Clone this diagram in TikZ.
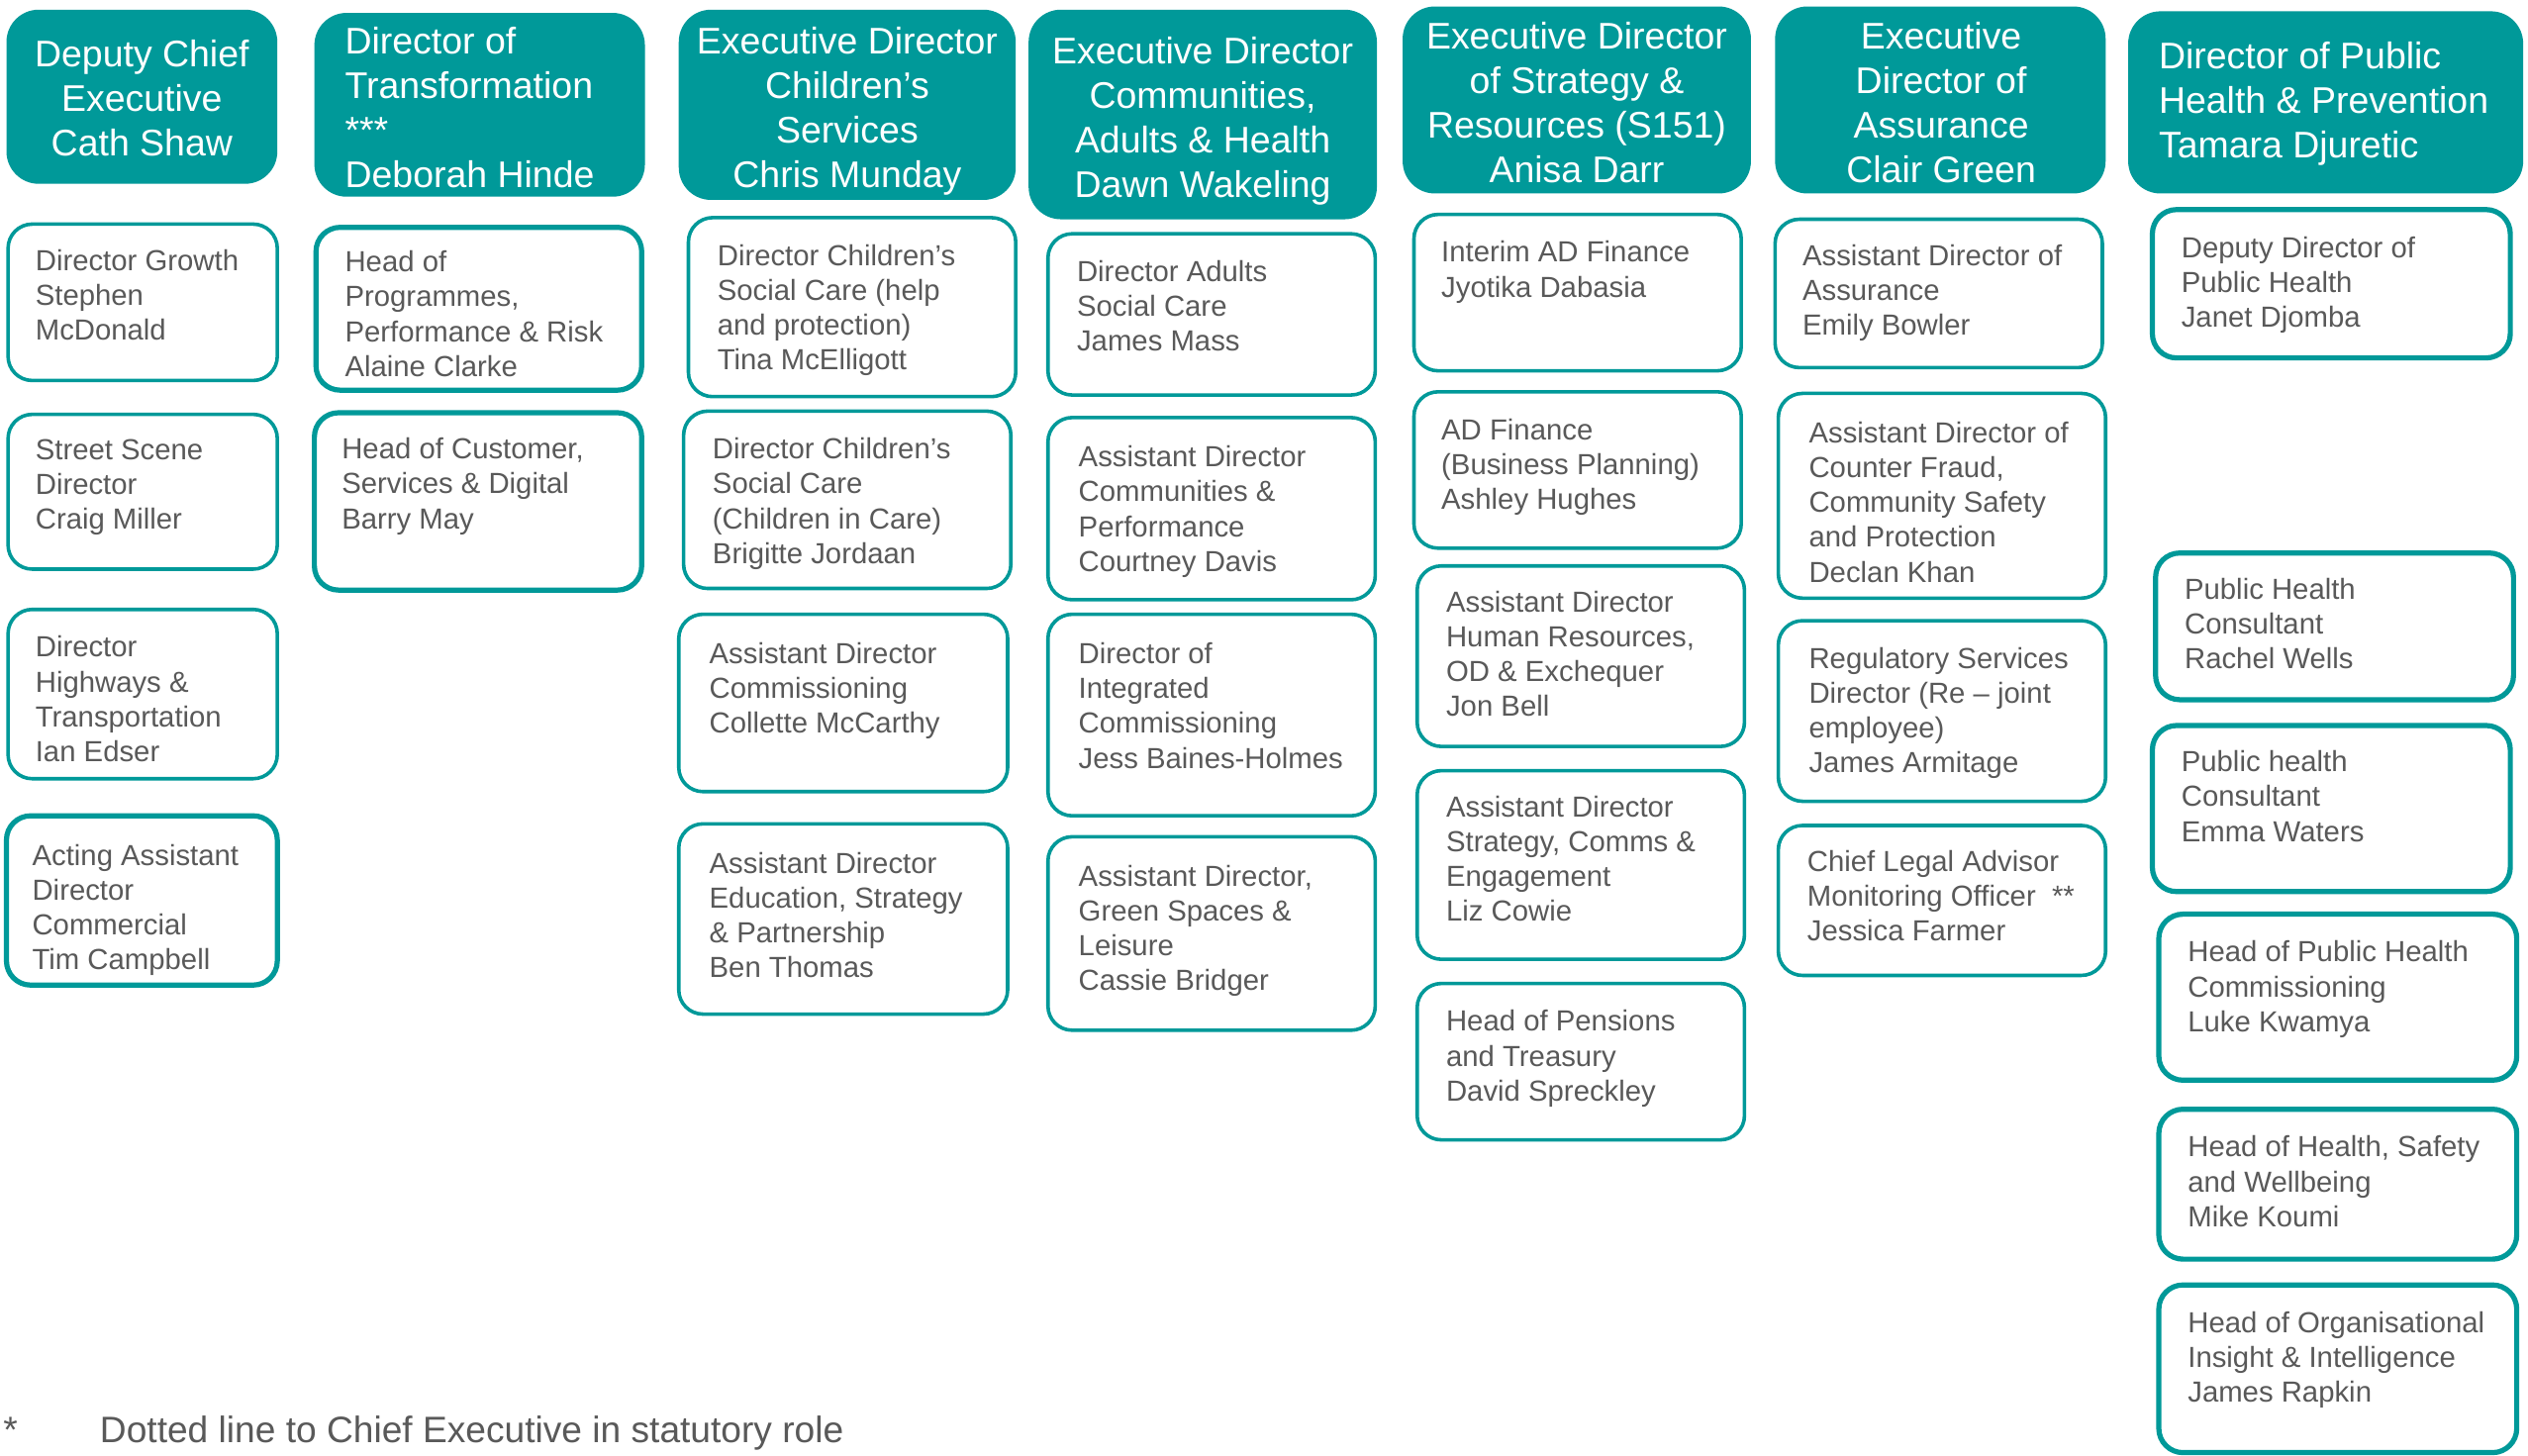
\documentclass[tikz,border=0pt]{standalone}
\usepackage{fontspec}
\setmainfont{Liberation Sans}
\definecolor{teal}{HTML}{009999}
\definecolor{txtgray}{HTML}{595959}
\tikzset{
  hdr/.style={fill=teal, draw=none, rounded corners=20pt, inner sep=0pt, outer sep=0pt, anchor=north west},
  hdrtxt/.style={text=white, font=\fontsize{23}{27.6}\selectfont, inner sep=0pt, outer sep=0pt},
  orgbox/.style={draw=teal, fill=white, line width=2.2pt, rounded corners=15pt, inner sep=0pt, outer sep=0pt, anchor=north west},
  thickbox/.style={orgbox, line width=3.2pt},
  orgtxt/.style={text=txtgray, font=\fontsize{18}{21.6}\selectfont, align=left, inner sep=0pt, outer sep=0pt, anchor=north west},
  notetxt/.style={text=txtgray, font=\fontsize{22.8}{27}\selectfont, inner sep=0pt, outer sep=0pt, anchor=base west}
}
% #1 style, #2 name, #3 x1, #4 y1, #5 x2, #6 y2
\newcommand{\orgrect}[6]{\node[#1, minimum width={#5pt-#3pt}, minimum height={#6pt-#4pt}] (#2) at (#3,#4) {};}
\begin{document}
\begin{tikzpicture}[x=1pt,y=-1pt]
\useasboundingbox (0,0) rectangle (1568,903);
\fill[white] (0,0) rectangle (1568,903);

% ---------- Column 1 ----------
\orgrect{hdr}{h1}{4}{6}{172}{114}
\node[hdrtxt, align=center, anchor=north] (h1t) at (88,24.8) {Deputy Chief\\Executive\\Cath Shaw};
\orgrect{orgbox}{c1a}{5}{139}{172}{236}
\node[orgtxt] (c1at) at (22,154.6) {Director Growth\\Stephen\\McDonald};
\orgrect{orgbox}{c1b}{5}{257}{172}{353}
\node[orgtxt] (c1bt) at (22,272.6) {Street Scene\\Director\\Craig Miller};
\orgrect{orgbox}{c1c}{5}{378}{172}{483}
\node[orgtxt] (c1ct) at (22,394.6) {Director\\Highways \&\\Transportation\\Ian Edser};
\orgrect{thickbox}{c1d}{4}{506}{172}{611}
\node[orgtxt] (c1dt) at (20,523.6) {Acting Assistant\\Director\\Commercial\\Tim Campbell};

% ---------- Column 2 ----------
\orgrect{hdr}{h2}{195}{8}{400}{122}
\node[hdrtxt, align=left, anchor=north west] (h2t) at (214,16.8) {Director of\\Transformation\\***\\Deborah Hinde};
\orgrect{thickbox}{c2a}{196}{141}{398}{242}
\node[orgtxt] (c2at) at (214,155.6) {Head of\\Programmes,\\Performance \& Risk\\Alaine Clarke};
\orgrect{thickbox}{c2b}{195}{256}{398}{366}
\node[orgtxt] (c2bt) at (212,271.6) {Head of Customer,\\Services \& Digital\\Barry May};

% ---------- Column 3 ----------
\orgrect{hdr}{h3}{421}{6}{630}{124}
\node[hdrtxt, align=center, anchor=north] (h3t) at (525.5,16.8) {Executive Director\\Children’s\\Services\\Chris Munday};
\orgrect{orgbox}{c3a}{427}{135}{630}{246}
\node[orgtxt] (c3at) at (445,151.6) {Director Children’s\\Social Care (help\\and protection)\\Tina McElligott};
\orgrect{orgbox}{c3b}{424}{255}{627}{365}
\node[orgtxt] (c3bt) at (442,271.6) {Director Children’s\\Social Care\\(Children in Care)\\Brigitte Jordaan};
\orgrect{orgbox}{c3c}{421}{381}{625}{491}
\node[orgtxt] (c3ct) at (440,398.6) {Assistant Director\\Commissioning\\Collette McCarthy};
\orgrect{orgbox}{c3d}{421}{511}{625}{629}
\node[orgtxt] (c3dt) at (440,528.6) {Assistant Director\\Education, Strategy\\\& Partnership\\Ben Thomas};

% ---------- Column 4 ----------
\orgrect{hdr}{h4}{638}{6}{854}{136}
\node[hdrtxt, align=center, anchor=north] (h4t) at (746,22.8) {Executive Director\\Communities,\\Adults \& Health\\Dawn Wakeling};
\orgrect{orgbox}{c4a}{650}{145}{853}{245}
\node[orgtxt] (c4at) at (668,161.6) {Director Adults\\Social Care\\James Mass};
\orgrect{orgbox}{c4b}{650}{259}{853}{372}
\node[orgtxt] (c4bt) at (669,276.6) {Assistant Director\\Communities \&\\Performance\\Courtney Davis};
\orgrect{orgbox}{c4c}{650}{381}{853}{506}
\node[orgtxt] (c4ct) at (669,398.6) {Director of\\Integrated\\Commissioning\\Jess Baines-Holmes};
\orgrect{orgbox}{c4d}{650}{519}{853}{639}
\node[orgtxt] (c4dt) at (669,536.6) {Assistant Director,\\Green Spaces \&\\Leisure\\Cassie Bridger};

% ---------- Column 5 ----------
\orgrect{hdr}{h5}{870}{4}{1086}{120}
\node[hdrtxt, align=center, anchor=north] (h5t) at (978,13.8) {Executive Director\\of Strategy \&\\Resources (S151)\\Anisa Darr};
\orgrect{orgbox}{c5a}{877}{133}{1080}{230}
\node[orgtxt] (c5at) at (894,149.6) {Interim AD Finance\\Jyotika Dabasia};
\orgrect{orgbox}{c5b}{877}{243}{1080}{340}
\node[orgtxt] (c5bt) at (894,259.6) {AD Finance\\(Business Planning)\\Ashley Hughes};
\orgrect{orgbox}{c5c}{879}{351}{1082}{463}
\node[orgtxt] (c5ct) at (897,366.6) {Assistant Director\\Human Resources,\\OD \& Exchequer\\Jon Bell};
\orgrect{orgbox}{c5d}{879}{478}{1082}{595}
\node[orgtxt] (c5dt) at (897,493.6) {Assistant Director\\Strategy, Comms \&\\Engagement\\Liz Cowie};
\orgrect{orgbox}{c5e}{879}{610}{1082}{707}
\node[orgtxt] (c5et) at (897,626.6) {Head of Pensions\\and Treasury\\David Spreckley};

% ---------- Column 6 ----------
\orgrect{hdr}{h6}{1101}{4}{1306}{120}
\node[hdrtxt, align=center, anchor=north] (h6t) at (1204,13.8) {Executive\\Director of\\Assurance\\Clair Green};
\orgrect{orgbox}{c6a}{1101}{136}{1304}{228}
\node[orgtxt] (c6at) at (1118,151.6) {Assistant Director of\\Assurance\\Emily Bowler};
\orgrect{orgbox}{c6b}{1103}{244}{1306}{371}
\node[orgtxt] (c6bt) at (1122,261.6) {Assistant Director of\\Counter Fraud,\\Community Safety\\and Protection\\Declan Khan};
\orgrect{orgbox}{c6c}{1103}{385}{1306}{497}
\node[orgtxt] (c6ct) at (1122,401.6) {Regulatory Services\\Director (Re – joint\\employee)\\James Armitage};
\orgrect{orgbox}{c6d}{1103}{512}{1306}{605}
\node[orgtxt] (c6dt) at (1121,527.6) {Chief Legal Advisor\\Monitoring Officer\ \ **\\Jessica Farmer};

% ---------- Column 7 ----------
\orgrect{hdr}{h7}{1320}{7}{1565}{120}
\node[hdrtxt, align=left, anchor=north west] (h7t) at (1339,25.8) {Director of Public\\Health \& Prevention\\Tamara Djuretic};
\orgrect{thickbox}{c7a}{1335}{130}{1557}{222}
\node[orgtxt] (c7at) at (1353,146.6) {Deputy Director of\\Public Health\\Janet Djomba};
\orgrect{thickbox}{c7b}{1337}{343}{1559}{434}
\node[orgtxt] (c7bt) at (1355,358.6) {Public Health\\Consultant\\Rachel Wells};
\orgrect{thickbox}{c7c}{1335}{450}{1557}{553}
\node[orgtxt] (c7ct) at (1353,465.6) {Public health\\Consultant\\Emma Waters};
\orgrect{thickbox}{c7d}{1339}{567}{1561}{670}
\node[orgtxt] (c7dt) at (1357,583.6) {Head of Public Health\\Commissioning\\Luke Kwamya};
\orgrect{thickbox}{c7e}{1339}{688}{1561}{781}
\node[orgtxt] (c7et) at (1357,704.6) {Head of Health, Safety\\and Wellbeing\\Mike Koumi};
\orgrect{thickbox}{c7f}{1339}{797}{1561}{901}
\node[orgtxt] (c7ft) at (1357,813.6) {Head of Organisational\\Insight \& Intelligence\\James Rapkin};

% ---------- Footnote ----------
\node[notetxt] (star) at (2,895) {*};
\node[notetxt] (note) at (62,895) {Dotted line to Chief Executive in statutory role};
\end{tikzpicture}
\end{document}
